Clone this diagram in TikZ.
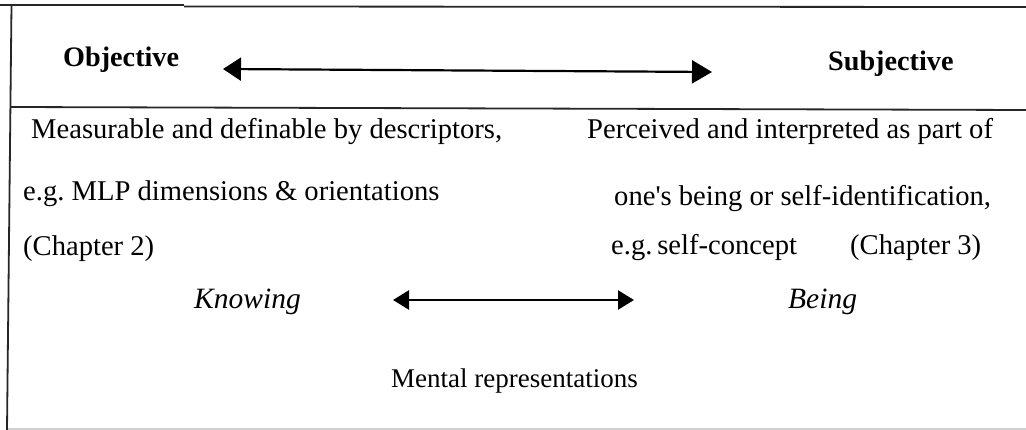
\documentclass[tikz,border=0pt]{standalone}
\usepackage{fontspec}
\setmainfont{Liberation Serif}[Ligatures=TeXOff]
\usetikzlibrary{arrows.meta}

\tikzset{
  rule/.style={line width=1.8pt, draw=black!85},
  faintrule/.style={line width=1.2pt, draw=black!18},
  body/.style={inner sep=0pt, anchor=base west, font=\fontsize{28.6}{34}\selectfont\frenchspacing},
  heading/.style={inner sep=0pt, anchor=base west, font=\fontsize{28.2}{34}\selectfont\bfseries},
  pole/.style={inner sep=0pt, anchor=base west, font=\fontsize{29.5}{34}\selectfont\itshape},
  caption/.style={inner sep=0pt, anchor=base west, font=\fontsize{27}{32}\selectfont},
  bigspan/.style={line width=2.2pt, {Triangle[length=18pt,width=23pt]}-{Triangle[length=20pt,width=23pt]}},
  smallspan/.style={line width=2.4pt, {Triangle[length=16pt,width=19pt]}-{Triangle[length=16pt,width=19pt]}}
}

\begin{document}
\begin{tikzpicture}[x=1pt, y=-1pt]
  \useasboundingbox (0,0) rectangle (1026,430);

  % frame: top rule, left edge, divider under the headings, faint foot
  \draw[rule] (0,5) -- (184,5);
  \draw[rule] (184,6.5) -- (1026,7);
  \draw[rule] (11.5,5) -- (7,430);
  \draw[rule] (10.5,107) -- (1026,110);
  \draw[faintrule] (8,429) -- (1026,429);

  % headings and the scale between them
  \node[heading] (obj) at (63,67) {Objective};
  \node[heading] (subj) at (828,71) {Subjective};
  \coordinate (objend) at (223,69);
  \coordinate (subjend) at (712,72);
  \draw[bigspan] (objend) -- (subjend);

  % left column
  \node[body] (l1) at (31,139) {Measurable and definable by descriptors,};
  \node[body] (l2) at (23,201) {e.g. MLP dimensions \& orientations};
  \node[body] (l3) at (23,256) {(Chapter 2)};

  % right column
  \node[body] (r1) at (587,139) {Perceived and interpreted as part of};
  \node[body] (r2) at (614,206) {one's being or self-identification,};
  \node[body] (r3a) at (611,255) {e.g.\,self-concept};
  \node[body] (r3b) at (850,255) {(Chapter 3)};

  % knowing / being
  \node[pole] (know) at (194,309) {Knowing};
  \node[pole] (being) at (788,309) {Being};
  \coordinate (kend) at (393,300);
  \coordinate (bend) at (634,300);
  \draw[smallspan] (kend) -- (bend);

  \node[caption] (mental) at (391,388) {Mental representations};
\end{tikzpicture}
\end{document}
